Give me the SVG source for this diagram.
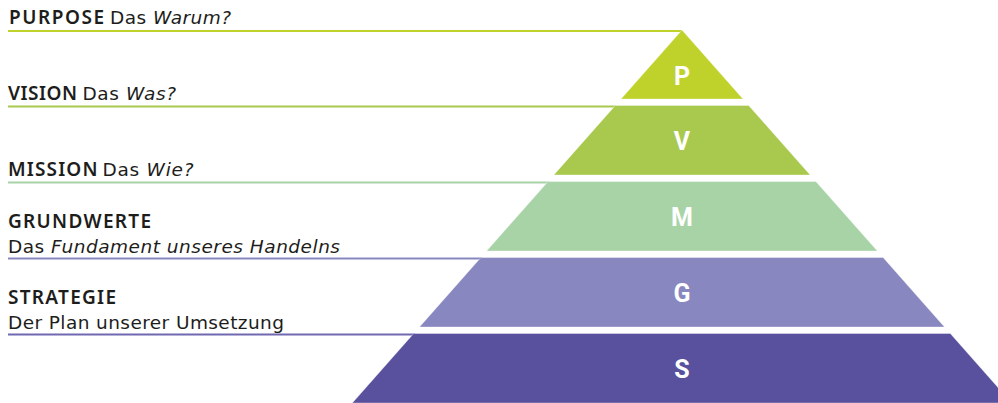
<svg xmlns="http://www.w3.org/2000/svg" width="998" height="403" viewBox="0 0 998 403">
  <style>
    .lbl { font-family: "DejaVu Sans", "Liberation Sans", sans-serif; font-size: 18.5px; fill: #1d1d1b; }
    .hd { font-family: "Noto Sans", "DejaVu Sans", sans-serif; font-weight: 600; font-size: 19px; }
    .it { font-style: italic; }
    .ltr { font-family: Roboto, "Liberation Sans", sans-serif; font-weight: 700; font-size: 25px; fill: #ffffff; text-anchor: middle; }
    .band { stroke: #ffffff; stroke-opacity: 0.35; stroke-width: 1; }
    .lead { fill: none; stroke-width: 2; }
  </style>
  <rect width="998" height="403" fill="#ffffff"/>
  <g id="connectors">
    <line class="lead" x1="8" y1="31" x2="682" y2="31" stroke="#bfd22b"/>
    <line class="lead" x1="8" y1="106.5" x2="616" y2="106.5" stroke="#a9c94e"/>
    <line class="lead" x1="8" y1="182.5" x2="549" y2="182.5" stroke="#a8d3a7"/>
    <line class="lead" x1="8" y1="258.5" x2="482" y2="258.5" stroke="#8887c0"/>
    <line class="lead" x1="8" y1="334.5" x2="415" y2="334.5" stroke="#7069b2"/>
  </g>
  <g id="purpose">
    <polygon class="band" points="682,30 743,99 621,99" fill="#bfd22b"/>
    <text class="ltr" x="682" y="84.5">P</text>
    <text class="lbl hd" x="9" y="23.5" textLength="95">PURPOSE</text>
    <text class="lbl" x="110" y="23.5" textLength="121">Das <tspan class="it">Warum?</tspan></text>
  </g>
  <g id="vision">
    <polygon class="band" points="615.3,105.5 748.7,105.5 810.2,175 553.8,175" fill="#a9c94e"/>
    <text class="ltr" x="682" y="149.5">V</text>
    <text class="lbl hd" x="8" y="99.8" textLength="69">VISION</text>
    <text class="lbl" x="82.5" y="99.8" textLength="93.5">Das <tspan class="it">Was?</tspan></text>
  </g>
  <g id="mission">
    <polygon class="band" points="548.1,181.5 815.9,181.5 877.4,251 486.6,251" fill="#a8d3a7"/>
    <text class="ltr" x="682" y="226">M</text>
    <text class="lbl hd" x="8" y="176" textLength="89.5">MISSION</text>
    <text class="lbl" x="102.5" y="176" textLength="91">Das <tspan class="it">Wie?</tspan></text>
  </g>
  <g id="grundwerte">
    <polygon class="band" points="480.9,257.5 883.1,257.5 944.5,327 419.5,327" fill="#8887c0"/>
    <text class="ltr" x="682" y="301.5">G</text>
    <text class="lbl hd" x="8" y="228" textLength="143">GRUNDWERTE</text>
    <text class="lbl" x="8" y="252.5" textLength="332">Das <tspan class="it">Fundament unseres Handelns</tspan></text>
  </g>
  <g id="strategie">
    <polygon class="band" points="413.7,333.5 950.3,333.5 1011.7,403 352.3,403" fill="#59519d"/>
    <text class="ltr" x="682" y="377.5">S</text>
    <text class="lbl hd" x="8" y="304" textLength="108">STRATEGIE</text>
    <text class="lbl" x="8" y="328.5" textLength="276">Der Plan unserer Umsetzung</text>
  </g>
</svg>
